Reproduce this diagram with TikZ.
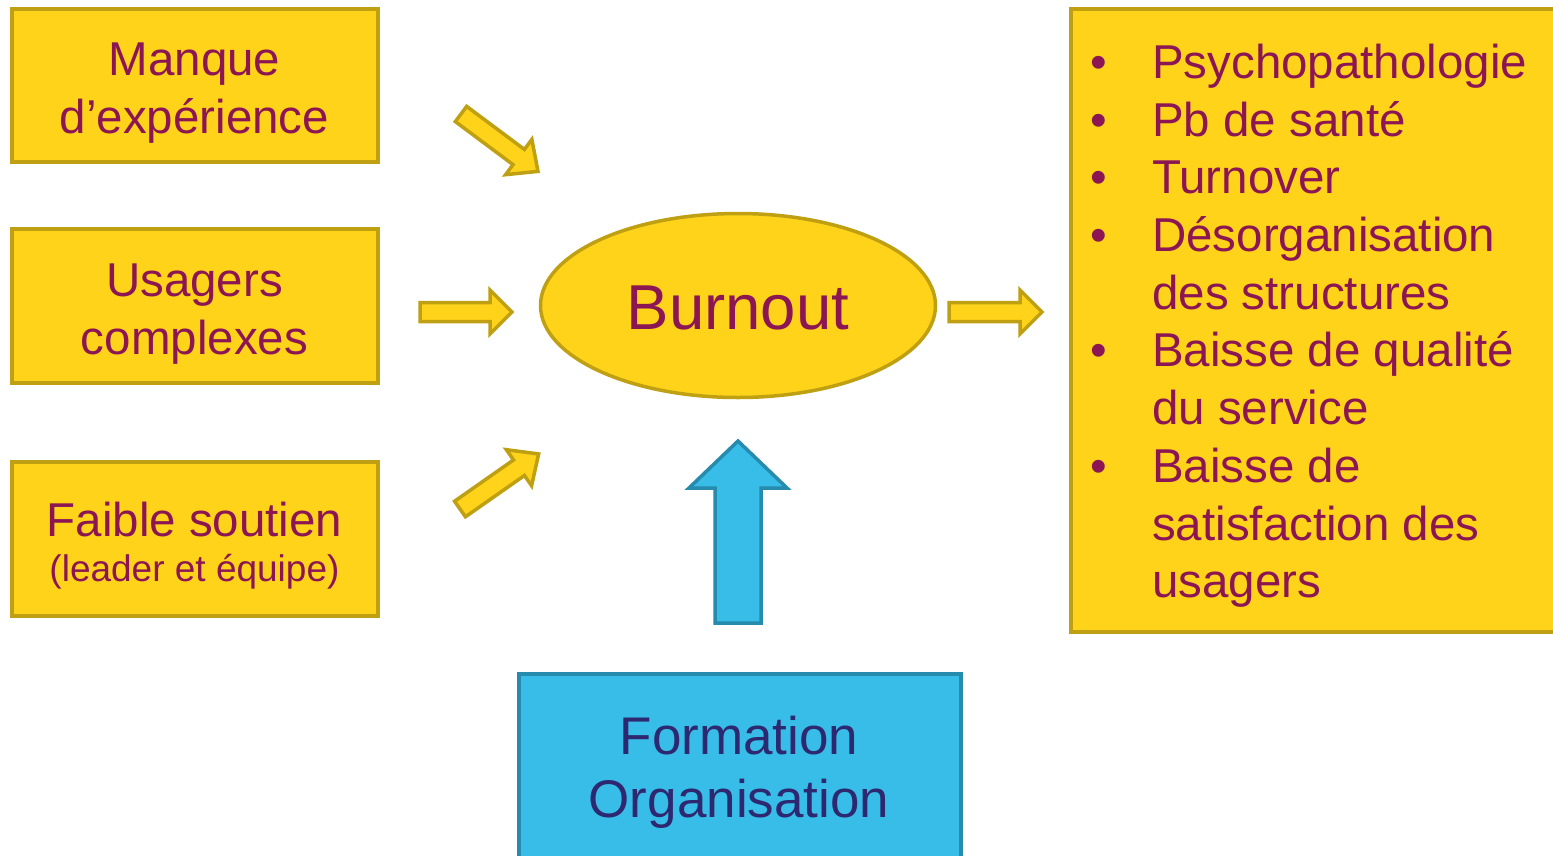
\documentclass[tikz,border=0pt]{standalone}
\usepackage{fontspec}
\setmainfont{Liberation Sans}
\usetikzlibrary{shapes.geometric}
\definecolor{yfill}{RGB}{254,211,25}
\definecolor{ydraw}{RGB}{191,160,18}
\definecolor{bfill}{RGB}{55,189,232}
\definecolor{bdraw}{RGB}{38,139,173}
\definecolor{ptext}{RGB}{140,22,84}
\definecolor{btext}{RGB}{46,40,112}
\tikzset{
  ybox/.style={draw=ydraw, fill=yfill, line width=4pt, rectangle, inner sep=0pt},
  bbox/.style={draw=bdraw, fill=bfill, line width=4pt, rectangle, inner sep=0pt},
  ytext/.style={text=ptext, align=center, inner sep=0pt, font=\fontsize{47.5}{58}\selectfont},
  listtext/.style={text=ptext, anchor=base west, inner sep=0pt, font=\fontsize{47.5}{58}\selectfont},
  bullettext/.style={text=ptext, anchor=base, inner sep=0pt, font=\fontsize{47.5}{58}\selectfont},
  yarrow/.style={draw=ydraw, fill=yfill, line width=3.5pt, line join=miter},
  barrow/.style={draw=bdraw, fill=bfill, line width=3.5pt, line join=miter},
}
% #1 style, #2 x, #3 y, #4 angle, #5 length, #6 half shaft, #7 half head, #8 head length
\newcommand{\blockarr}[8]{%
  \draw[#1, shift={(#2,#3)}, rotate=#4]
    (0,-#6) -- ({#5-#8},-#6) -- ({#5-#8},-#7) -- (#5,0) -- ({#5-#8},#7) -- ({#5-#8},#6) -- (0,#6) -- cycle;}
\begin{document}
\begin{tikzpicture}[x=1pt,y=-1pt]
\clip (0,0) rectangle (1553,855);
\fill[white] (0,0) rectangle (1553,855);

% left boxes
\node[ybox, minimum width=366pt, minimum height=153pt] (b1) at (194.5,85) {};
\node[ytext] (t1) at (194.5,93) {Manque\\d’expérience};
\node[ybox, minimum width=366pt, minimum height=154pt] (b2) at (194.5,305.5) {};
\node[ytext] (t2) at (194.5,314) {Usagers\\complexes};
\node[ybox, minimum width=366pt, minimum height=154pt] (b3) at (194.5,538.5) {};
\node[ytext, anchor=base] (t3a) at (194.5,536) {Faible soutien};
\node[text=ptext, anchor=base, inner sep=0pt, font=\fontsize{37}{44}\selectfont] (t3b) at (194.5,581) {(leader et équipe)};

% ellipse
\node[ellipse, draw=ydraw, fill=yfill, line width=3.5pt, minimum width=395pt, minimum height=184pt, inner sep=0pt] (burn) at (738,305.5) {};
\node[text=ptext, inner sep=0pt, font=\fontsize{63.5}{70}\selectfont] (burnt) at (738,308) {Burnout};

% right box
\node[ybox, anchor=north west, minimum width=520pt, minimum height=623pt] (rb) at (1069,7) {};
\foreach \i/\b in {1/78, 2/136, 3/193, 4/251, 6/366, 8/482}{
  \node[bullettext] (bu\i) at (1099,\b) {•};
}
\node[listtext] (l1) at (1152,78) {Psychopathologie};
\node[listtext] (l2) at (1152,136) {Pb de santé};
\node[listtext] (l3) at (1152,193) {Turnover};
\node[listtext] (l4) at (1152,251) {Désorganisation};
\node[listtext] (l5) at (1152,309) {des structures};
\node[listtext] (l6) at (1152,366) {Baisse de qualité};
\node[listtext] (l7) at (1152,424) {du service};
\node[listtext] (l8) at (1152,482) {Baisse de};
\node[listtext] (l9) at (1152,540) {satisfaction des};
\node[listtext] (l10) at (1152,597) {usagers};

% blue box
\node[bbox, anchor=north west, minimum width=442pt, minimum height=220pt] (fb) at (517,672) {};
\node[text=btext, align=center, inner sep=0pt, font=\fontsize{53}{63}\selectfont] (ft) at (739,772) {Formation\\Organisation};

% block arrows
\blockarr{yarrow}{461}{114}{-36.7}{96}{9.5}{22}{24}
\blockarr{yarrow}{420}{312}{0}{92}{9.5}{22}{22}
\blockarr{yarrow}{460}{509}{35}{96}{9.5}{22}{24}
\blockarr{yarrow}{949}{312}{0}{93}{9.5}{22}{22}
\blockarr{barrow}{738}{623}{90}{182}{23}{49}{47}
\end{tikzpicture}
\end{document}
